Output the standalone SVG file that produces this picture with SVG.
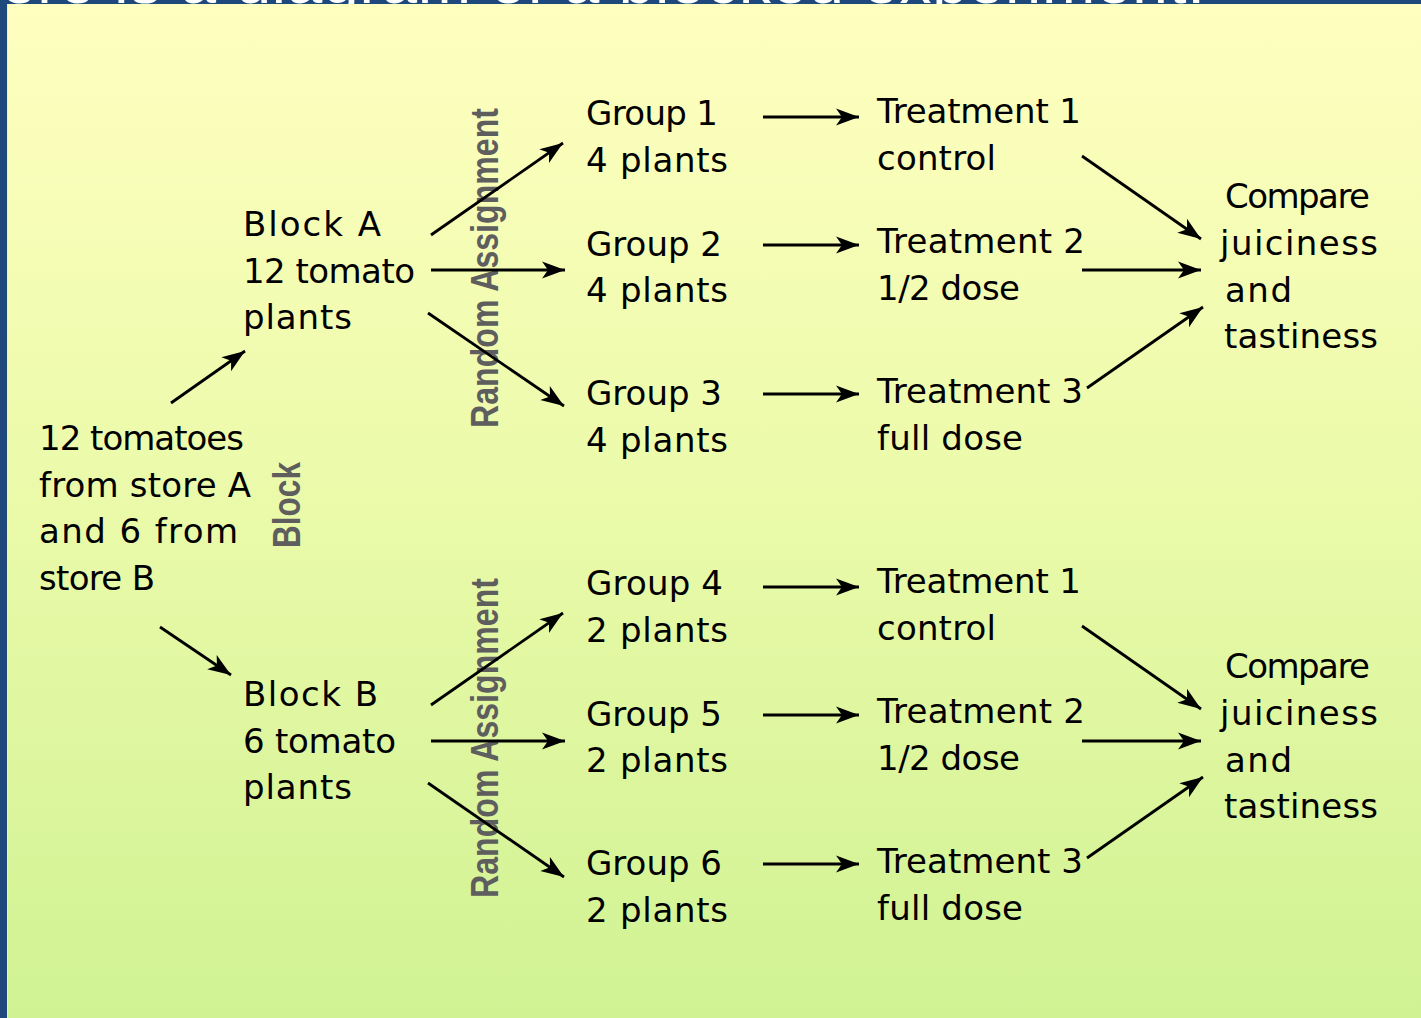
<svg xmlns="http://www.w3.org/2000/svg" width="1421" height="1018" viewBox="0 0 1421 1018">
<defs>
<linearGradient id="bg" x1="0" y1="0" x2="0" y2="1">
<stop offset="0" stop-color="#ffffc0"/>
<stop offset="0.5" stop-color="#eafaa9"/>
<stop offset="1" stop-color="#d0f293"/>
</linearGradient>
<marker id="ah" markerUnits="userSpaceOnUse" markerWidth="24" markerHeight="20" viewBox="0 0 24 20" refX="23" refY="10" orient="auto">
<path d="M0,1.5 L23,10 L0,18.5 L6,10 Z" fill="#000"/>
</marker>
</defs>
<style>
.hw{font-family:"DejaVu Sans","Liberation Sans",sans-serif;font-size:34px;fill:#000;}
.vt{font-family:"Liberation Sans",Arial,sans-serif;font-weight:bold;font-size:38px;fill:#5e5e5e;}
.ttl{font-family:"Liberation Sans",Arial,sans-serif;font-size:64px;fill:#ffffff;}
.cn line{stroke:#000;stroke-width:2.8;marker-end:url(#ah);}
</style>
<rect x="0" y="0" width="1421" height="1018" fill="#1f497d"/>
<text class="ttl" x="-46" y="3" textLength="1251">Here is a diagram of a blocked experiment.</text>
<rect x="7" y="4" width="1414" height="1014" fill="url(#bg)"/>
<line x1="7.5" y1="4" x2="7.5" y2="1018" stroke="#e8f0d0" stroke-width="1"/>

<g id="source">
<text class="hw" x="39" y="450" textLength="205">12 tomatoes</text>
<text class="hw" x="39" y="497" textLength="212">from store A</text>
<text class="hw" x="39" y="543" textLength="199">and 6 from</text>
<text class="hw" x="39" y="590" textLength="116">store B</text>
</g>
<g id="block-label">
<text class="vt" transform="translate(300,548) rotate(-90)" textLength="86" lengthAdjust="spacingAndGlyphs">Block</text>
</g>
<g id="blockA">
<text class="hw" x="243" y="236" textLength="138">Block A</text>
<text class="hw" x="243" y="283" textLength="172">12 tomato</text>
<text class="hw" x="243" y="329" textLength="109">plants</text>
</g>
<g id="blockB">
<text class="hw" x="243" y="706" textLength="135">Block B</text>
<text class="hw" x="243" y="753" textLength="153">6 tomato</text>
<text class="hw" x="243" y="799" textLength="109">plants</text>
</g>
<g id="random-assignment-A">
<text class="vt" transform="translate(498,428) rotate(-90)" textLength="320" lengthAdjust="spacingAndGlyphs">Random Assignment</text>
</g>
<g id="random-assignment-B">
<text class="vt" transform="translate(498,898) rotate(-90)" textLength="320" lengthAdjust="spacingAndGlyphs">Random Assignment</text>
</g>

<g id="group1"><text class="hw" x="586" y="125" textLength="132">Group 1</text><text class="hw" x="586" y="172" textLength="142">4 plants</text></g>
<g id="group2"><text class="hw" x="586" y="256" textLength="136">Group 2</text><text class="hw" x="586" y="302" textLength="142">4 plants</text></g>
<g id="group3"><text class="hw" x="586" y="405" textLength="136">Group 3</text><text class="hw" x="586" y="452" textLength="142">4 plants</text></g>
<g id="group4"><text class="hw" x="586" y="595" textLength="137">Group 4</text><text class="hw" x="586" y="642" textLength="142">2 plants</text></g>
<g id="group5"><text class="hw" x="586" y="726" textLength="136">Group 5</text><text class="hw" x="586" y="772" textLength="142">2 plants</text></g>
<g id="group6"><text class="hw" x="586" y="875" textLength="136">Group 6</text><text class="hw" x="586" y="922" textLength="142">2 plants</text></g>

<g id="treatment1A"><text class="hw" x="877" y="123" textLength="204">Treatment 1</text><text class="hw" x="877" y="170" textLength="119">control</text></g>
<g id="treatment2A"><text class="hw" x="877" y="253" textLength="208">Treatment 2</text><text class="hw" x="877" y="300" textLength="143">1/2 dose</text></g>
<g id="treatment3A"><text class="hw" x="877" y="403" textLength="206">Treatment 3</text><text class="hw" x="877" y="450" textLength="146">full dose</text></g>
<g id="treatment1B"><text class="hw" x="877" y="593" textLength="204">Treatment 1</text><text class="hw" x="877" y="640" textLength="119">control</text></g>
<g id="treatment2B"><text class="hw" x="877" y="723" textLength="208">Treatment 2</text><text class="hw" x="877" y="770" textLength="143">1/2 dose</text></g>
<g id="treatment3B"><text class="hw" x="877" y="873" textLength="206">Treatment 3</text><text class="hw" x="877" y="920" textLength="146">full dose</text></g>

<g id="compareA">
<text class="hw" x="1225" y="208" textLength="145">Compare</text>
<text class="hw" x="1220" y="255" textLength="158">juiciness</text>
<text class="hw" x="1225" y="302" textLength="67">and</text>
<text class="hw" x="1224" y="348" textLength="154">tastiness</text>
</g>
<g id="compareB">
<text class="hw" x="1225" y="678" textLength="145">Compare</text>
<text class="hw" x="1220" y="725" textLength="158">juiciness</text>
<text class="hw" x="1225" y="772" textLength="67">and</text>
<text class="hw" x="1224" y="818" textLength="154">tastiness</text>
</g>

<g id="connectors" class="cn">
<line x1="171" y1="403" x2="245" y2="351"/>
<line x1="160" y1="627" x2="231" y2="675"/>
<line x1="431" y1="235" x2="563" y2="143"/>
<line x1="431" y1="270" x2="565" y2="270"/>
<line x1="428" y1="313" x2="564" y2="406"/>
<line x1="431" y1="705" x2="563" y2="613"/>
<line x1="431" y1="741" x2="565" y2="741"/>
<line x1="428" y1="783" x2="564" y2="877"/>
<line x1="763" y1="117" x2="859" y2="117"/>
<line x1="763" y1="245" x2="859" y2="245"/>
<line x1="763" y1="394" x2="859" y2="394"/>
<line x1="763" y1="587" x2="859" y2="587"/>
<line x1="763" y1="715" x2="859" y2="715"/>
<line x1="763" y1="864" x2="859" y2="864"/>
<line x1="1082" y1="156" x2="1201" y2="239"/>
<line x1="1082" y1="270" x2="1201" y2="270"/>
<line x1="1087" y1="388" x2="1203" y2="307"/>
<line x1="1082" y1="626" x2="1201" y2="709"/>
<line x1="1082" y1="741" x2="1201" y2="741"/>
<line x1="1087" y1="858" x2="1203" y2="777"/>
</g>
</svg>
